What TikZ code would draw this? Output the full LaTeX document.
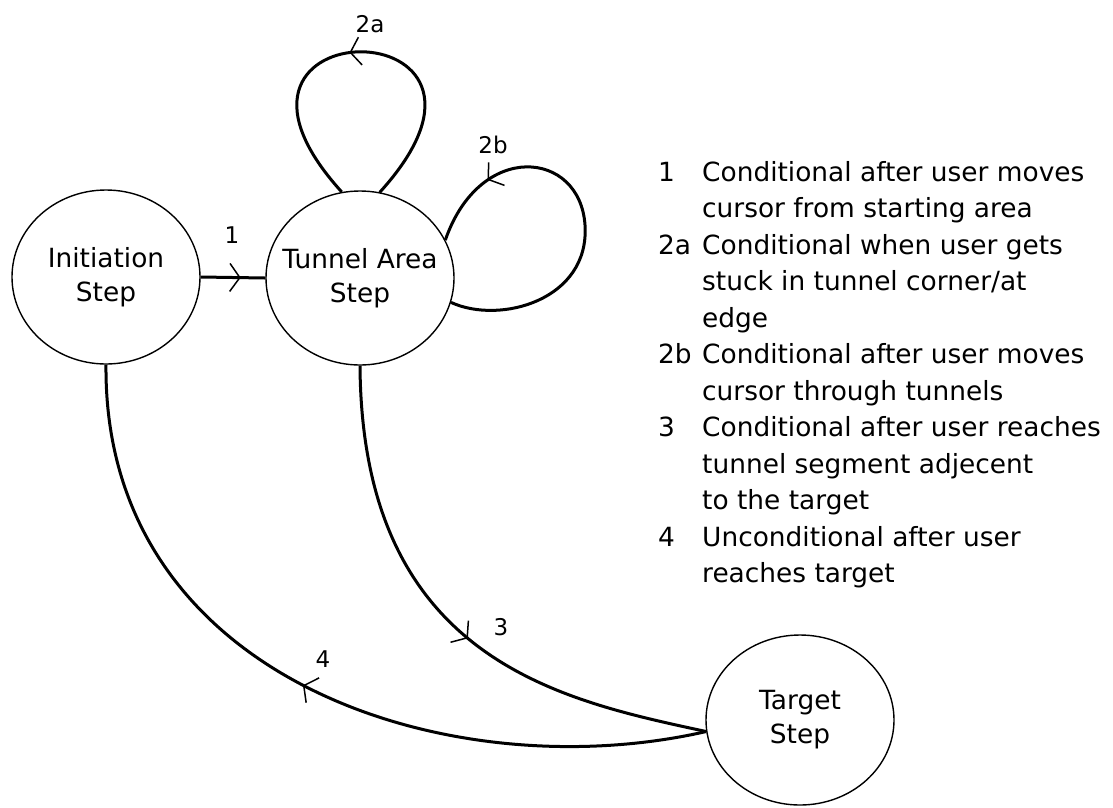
\documentclass[tikz,border=0pt]{standalone}
\usepackage{fontspec}
\setmainfont{DejaVu Sans}
\usetikzlibrary{shapes.geometric, arrows.meta, decorations.markings}

\newcommand{\itemnum}[1]{\makebox[44pt][l]{#1}}
\newcommand{\itemgap}{\hspace*{44pt}}

\begin{document}
\begin{tikzpicture}[x=1pt, y=-1pt,
  state/.style={draw, ellipse, line width=1.4pt, inner sep=0pt,
                minimum width=188pt, minimum height=174pt},
  statetext/.style={align=center, inner sep=0pt,
                    font=\fontsize{26.4}{34}\selectfont},
  edge/.style={line width=3pt},
  midarrow/.style={postaction={decorate, decoration={markings,
      mark=at position #1 with {\arrow{Straight Barb[length=10pt, width=28pt, line width=1.5pt]}}}}},
  tag/.style={font=\fontsize{23}{27}\selectfont, anchor=base, inner sep=0pt}]

\useasboundingbox (0,0) rectangle (1113,807);

% states
\node[state, label={[statetext]center:{Initiation\\Step}}] (init) at (106,277) {};
\node[state, label={[statetext]center:{Tunnel Area\\Step}}] (tun) at (360,278) {};
\node[state, minimum height=170pt, label={[statetext]center:{Target\\Step}}] (tgt) at (800,720) {};

% transitions
\draw[edge, midarrow=0.62] (init.east) -- (tun.west);
\draw[edge, midarrow=0.53] (tun.77) .. controls (550,5) and (172,5) .. (tun.102);
\draw[edge, midarrow=0.81] (tun.-15) .. controls (500,325) and (590,300) .. (585,225)
      .. controls (580,150) and (480,140) .. (tun.24);
\draw[edge, midarrow=0.54] (tun.south) .. controls (362,660) and (560,700) .. (tgt.187);
\draw[edge, midarrow=0.51] (tgt.187) .. controls (450,790) and (103,680) .. (init.south);

% transition labels
\node[tag] (l1) at (232,243) {1};
\node[tag] (l2a) at (370,32) {2a};
\node[tag] (l2b) at (493,153) {2b};
\node[tag] (l3) at (501,635) {3};
\node[tag] (l4) at (323,667) {4};

% legend
\node[anchor=north west, inner sep=0pt, align=left,
      font=\fontsize{26.4}{36.5}\selectfont] (legend) at (658,161) {%
\itemnum{1}Conditional after user moves\\
\itemgap cursor from starting area\\
\itemnum{2a}Conditional when user gets\\
\itemgap stuck in tunnel corner/at\\
\itemgap edge\\
\itemnum{2b}Conditional after user moves\\
\itemgap cursor through tunnels\\
\itemnum{3}Conditional after user reaches\\
\itemgap tunnel segment adjecent\\
\itemgap to the target\\
\itemnum{4}Unconditional after user\\
\itemgap reaches target};
\end{tikzpicture}
\end{document}
